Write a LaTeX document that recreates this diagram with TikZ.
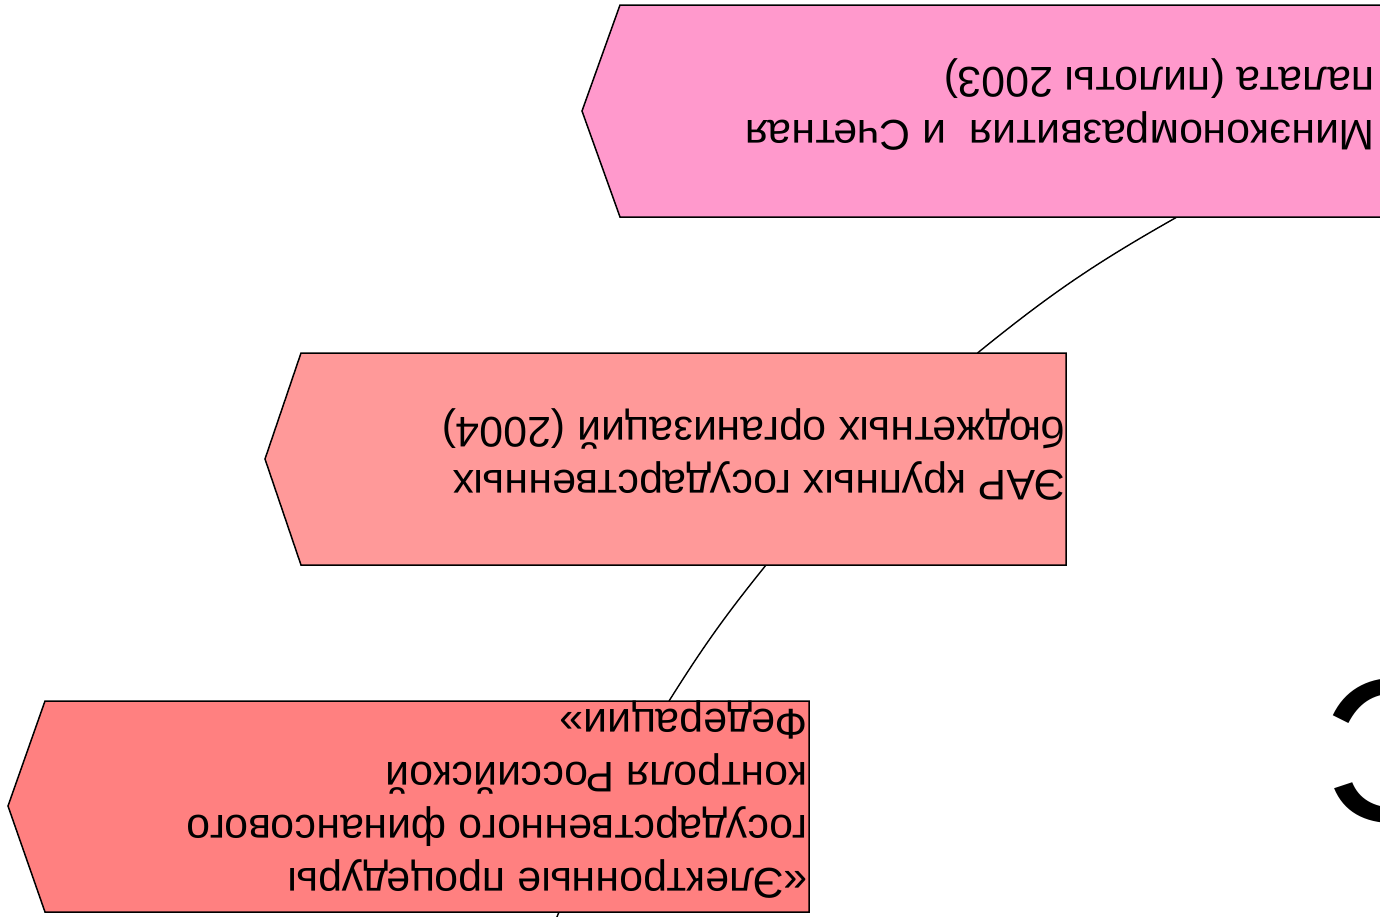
\documentclass[tikz,border=0pt]{standalone}
\usepackage{fontspec}
\setmainfont{Liberation Sans}
\definecolor{boxA}{RGB}{255,153,204}
\definecolor{boxB}{RGB}{255,153,153}
\definecolor{boxC}{RGB}{255,128,128}
\begin{document}
\begin{tikzpicture}[x=1pt,y=-1pt,
  box/.style={draw=black, line width=1.5pt, line join=miter},
  lbl/.style={rotate=180, anchor=base west, inner sep=0pt, font=\fontsize{42.8}{53}\selectfont},
  link/.style={draw=black, line width=1.4pt}]
\useasboundingbox (0,0) rectangle (1380,916);
\clip (0,0) rectangle (1380,916);
% connection points
\coordinate (a1) at (1177,217);
\coordinate (b1) at (977.5,353);
\coordinate (b2) at (766,565);
\coordinate (c1) at (669,701);
\coordinate (c2) at (559,912);
\coordinate (cend) at (551.5,930);
% connectors (arc of one large circle)
\draw[link] (a1) to[bend right=4.8] (b1);
\draw[link] (b2) to[bend right=3.33] (c1);
\draw[link] (c2) -- (cend);
% boxes
\path[box, fill=boxA] (620,5) -- (1400,5) -- (1400,217) -- (620,217) -- (582,111) -- cycle;
\path[box, fill=boxB] (301,353) -- (1066,353) -- (1066,565) -- (301,565) -- (265,459) -- cycle;
\path[box, fill=boxC] (45,701) -- (809,701) -- (809,912) -- (45,912) -- (8,806) -- cycle;
% texts (upside down)
\node[lbl] (ta1) at (1375,120) {Минэкономразвития\ \ и Счетная};
\node[lbl] (ta2) at (1375,67) {палата (пилоты 2003)};
\node[lbl] (tb1) at (1066,470) {ЭАР крупных государственных};
\node[lbl] (tb2) at (1066,417) {бюджетных организаций (2004)};
\node[lbl] (tc1) at (808,868) {«Электронные процедуры};
\node[lbl] (tc2) at (808,815) {государственного финансового};
\node[lbl] (tc3) at (808,762) {контроля Российской};
\node[lbl] (tc4) at (808,709) {Федерации»};
% large letter at right edge
\node[rotate=180, anchor=base east, inner sep=0pt, font=\fontsize{205}{205}\selectfont] (bigc) at (1325,680) {С};
\end{tikzpicture}
\end{document}
